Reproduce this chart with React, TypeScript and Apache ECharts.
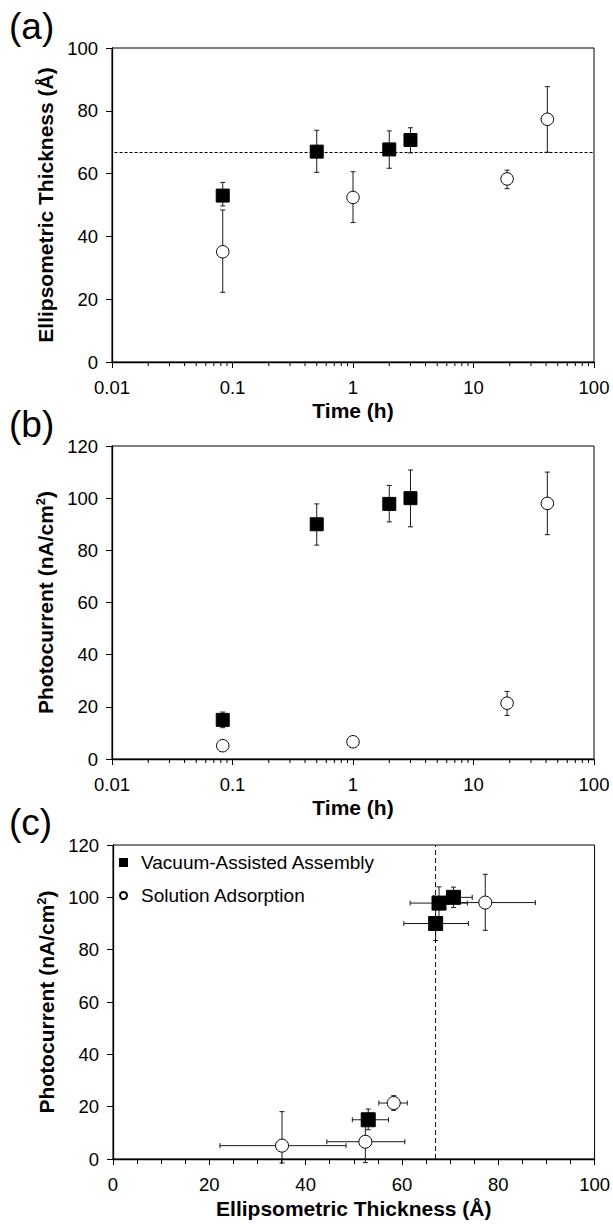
import React, { useEffect, useRef } from 'react';
import * as echarts from 'echarts';

const FONT = '"Liberation Sans", Arial, Helvetica, sans-serif';

// ---- data ----
const TIME_VAC = [0.083, 0.5, 2, 3];
const TIME_SOL = [0.083, 1, 19, 41];

const THICK_VAC = [53, 67, 67.7, 70.7];
const THICK_VAC_LO = [49.7, 60.4, 61.7, 66.6];
const THICK_VAC_HI = [57.2, 73.8, 73.6, 74.6];
const THICK_SOL = [35.1, 52.4, 58.3, 77.3];
const THICK_SOL_LO = [22.2, 44.4, 55.2, 66.8];
const THICK_SOL_HI = [48.4, 60.6, 61.1, 87.7];

const CURR_VAC = [15, 90, 97.8, 100];
const CURR_VAC_LO = [12, 82, 90.9, 89];
const CURR_VAC_HI = [18, 97.8, 104.9, 110.8];
const CURR_SOL = [5.1, 6.6, 21.4, 98];
const CURR_SOL_LO = [5.1, 6.6, 16.7, 86];
const CURR_SOL_HI = [5.1, 6.6, 25.9, 110];

// panel (c) photocurrent error bars as drawn
const C_CURR_VAC_LO = [11.2, 83.5, 92, 96.1];
const C_CURR_VAC_HI = [19.1, 96.5, 104, 103.9];
const C_CURR_SOL_LO = [-1.5, -1.4, 18.6, 87.4];
const C_CURR_SOL_HI = [18.1, 15, 24.2, 108.8];

const MONOLAYER = 66.9;

const LOG_DECADES = [0.01, 0.1, 1, 10];
const LOG_MINOR_MULT = [2, 3, 4, 5, 6, 7, 8, 9];
const X_TICK_LABELS = ['0.01', '0.1', '1', '10', '100'];

const VAC_NAME = 'Vacuum-Assisted Assembly';
const SOL_NAME = 'Solution Adsorption';

const MINOR_TICKS: number[][] = [];
LOG_DECADES.forEach((d) => LOG_MINOR_MULT.forEach((m) => MINOR_TICKS.push([d * m, 0])));

const ERR_STYLE = { stroke: '#1a1a1a', lineWidth: 1 };
const CAP = 2.5;

const vErrRender = (params: any, api: any) => {
  const x = api.value(0);
  const lo = api.coord([x, api.value(2)]);
  const hi = api.coord([x, api.value(3)]);
  return {
    type: 'group',
    children: [
      { type: 'line', shape: { x1: lo[0], y1: lo[1], x2: hi[0], y2: hi[1] }, style: ERR_STYLE },
      { type: 'line', shape: { x1: lo[0] - CAP, y1: lo[1], x2: lo[0] + CAP, y2: lo[1] }, style: ERR_STYLE },
      { type: 'line', shape: { x1: hi[0] - CAP, y1: hi[1], x2: hi[0] + CAP, y2: hi[1] }, style: ERR_STYLE },
    ],
  };
};

const xyErrRender = (params: any, api: any) => {
  const x = api.value(0);
  const y = api.value(1);
  const xl = api.coord([api.value(2), y]);
  const xh = api.coord([api.value(3), y]);
  const yl = api.coord([x, api.value(4)]);
  const yh = api.coord([x, api.value(5)]);
  return {
    type: 'group',
    children: [
      { type: 'line', shape: { x1: xl[0], y1: xl[1], x2: xh[0], y2: xh[1] }, style: ERR_STYLE },
      { type: 'line', shape: { x1: xl[0], y1: xl[1] - CAP, x2: xl[0], y2: xl[1] + CAP }, style: ERR_STYLE },
      { type: 'line', shape: { x1: xh[0], y1: xh[1] - CAP, x2: xh[0], y2: xh[1] + CAP }, style: ERR_STYLE },
      { type: 'line', shape: { x1: yl[0], y1: yl[1], x2: yh[0], y2: yh[1] }, style: ERR_STYLE },
      { type: 'line', shape: { x1: yl[0] - CAP, y1: yl[1], x2: yl[0] + CAP, y2: yl[1] }, style: ERR_STYLE },
      { type: 'line', shape: { x1: yh[0] - CAP, y1: yh[1], x2: yh[0] + CAP, y2: yh[1] }, style: ERR_STYLE },
    ],
  };
};

const minorTickRender = (params: any, api: any) => {
  const p = api.coord([api.value(0), 0]);
  return {
    type: 'line',
    shape: { x1: p[0], y1: p[1], x2: p[0], y2: p[1] + 4 },
    style: { stroke: '#000', lineWidth: 1 },
  };
};

const axisCommon = {
  axisLine: { show: true, onZero: false, lineStyle: { color: '#000', width: 1.3 } },
  axisTick: { show: true, inside: false, length: 6, lineStyle: { color: '#000', width: 1 } },
  splitLine: { show: false },
  nameLocation: 'middle' as const,
};

const labelStyle = { fontSize: 18.5, color: '#000', fontFamily: FONT };
const nameStyle = { fontSize: 21, fontWeight: 'bold' as const, color: '#000', fontFamily: FONT };

const photoName = 'Photocurrent (nA/cm{sup|2})';
const photoNameStyle = {
  ...nameStyle,
  rich: {
    sup: { fontSize: 13, fontWeight: 'bold', color: '#000', fontFamily: FONT, verticalAlign: 'top', padding: [0, 0, 10, 0] },
  },
};

const logXAxis = (gridIndex: number) => ({
  ...axisCommon,
  type: 'log',
  logBase: 10,
  gridIndex,
  min: 0.01,
  max: 100,
  name: 'Time (h)',
  nameGap: 38,
  nameTextStyle: nameStyle,
  axisLabel: {
    ...labelStyle,
    margin: 16,
    formatter: (v: number) => X_TICK_LABELS[Math.round(Math.log10(v)) + 2] ?? String(v),
  },
});

const scatterSq = (name: string, data: number[][], xi: number, size: number) => ({
  type: 'scatter',
  name,
  xAxisIndex: xi,
  yAxisIndex: xi,
  symbol: 'rect',
  symbolSize: size,
  itemStyle: { color: '#000', borderColor: '#000', borderWidth: 1, opacity: 1 },
  data,
  z: 5,
  silent: true,
});

const scatterCirc = (name: string, data: number[][], xi: number, size: number) => ({
  type: 'scatter',
  name,
  xAxisIndex: xi,
  yAxisIndex: xi,
  symbol: 'circle',
  symbolSize: size,
  itemStyle: { color: '#fff', borderColor: '#000', borderWidth: 1, opacity: 1 },
  data,
  z: 5,
  silent: true,
});

const errSeries = (data: number[][], xi: number, render: any) => ({
  type: 'custom',
  xAxisIndex: xi,
  yAxisIndex: xi,
  renderItem: render,
  data,
  z: 3,
  silent: true,
  clip: false,
});

export default function App() {
  const ref = useRef<HTMLDivElement>(null);

  useEffect(() => {
    if (!ref.current) return;
    const chart = echarts.init(ref.current, undefined, { renderer: 'svg' });

    const zipErr = (xs: number[], ys: number[], lo: number[], hi: number[]) =>
      xs.map((x, i) => [x, ys[i], lo[i], hi[i]]);

    const option: any = {
      animation: false,
      backgroundColor: '#fff',
      textStyle: { fontFamily: FONT },
      grid: [
        { left: 112, top: 48, width: 482, height: 314, show: true, borderColor: '#000', borderWidth: 1 },
        { left: 112, top: 446, width: 482, height: 313, show: true, borderColor: '#000', borderWidth: 1 },
        { left: 113, top: 845, width: 483, height: 314, show: true, borderColor: '#000', borderWidth: 1 },
      ],
      xAxis: [
        logXAxis(0),
        logXAxis(1),
        {
          ...axisCommon,
          type: 'value',
          gridIndex: 2,
          min: 0,
          max: 100,
          interval: 20,
          minorTick: { show: true, splitNumber: 4, length: 5, lineStyle: { color: '#000', width: 1 } },
          name: 'Ellipsometric Thickness (Å)',
          nameGap: 39,
          nameTextStyle: nameStyle,
          axisLabel: { ...labelStyle, margin: 16 },
        },
      ],
      yAxis: [
        {
          ...axisCommon,
          type: 'value',
          gridIndex: 0,
          min: 0,
          max: 100,
          interval: 20,
          name: 'Ellipsometric Thickness (Å)',
          nameGap: 54,
          nameTextStyle: nameStyle,
          axisLabel: { ...labelStyle, margin: 14 },
        },
        {
          ...axisCommon,
          type: 'value',
          gridIndex: 1,
          min: 0,
          max: 120,
          interval: 20,
          name: photoName,
          nameGap: 47,
          nameTextStyle: photoNameStyle,
          axisLabel: { ...labelStyle, margin: 14 },
        },
        {
          ...axisCommon,
          type: 'value',
          gridIndex: 2,
          min: 0,
          max: 120,
          interval: 20,
          name: photoName,
          nameGap: 47,
          nameTextStyle: photoNameStyle,
          axisLabel: { ...labelStyle, margin: 14 },
        },
      ],
      legend: {
        data: [
          { name: VAC_NAME, icon: 'rect' },
          { name: SOL_NAME, icon: 'circle' },
        ],
        orient: 'vertical',
        left: 119,
        top: 852,
        itemWidth: 7,
        itemHeight: 7,
        itemGap: 12,
        padding: 0,
        selectedMode: false,
        textStyle: { fontSize: 19, color: '#000', fontFamily: FONT, lineHeight: 21, padding: [0, 0, 0, 9] },
      },
      graphic: [
        { type: 'text', left: 9, top: 8, style: { text: '(a)', fontSize: 37, fill: '#000', fontFamily: FONT } },
        { type: 'text', left: 9, top: 406, style: { text: '(b)', fontSize: 37, fill: '#000', fontFamily: FONT } },
        { type: 'text', left: 9, top: 804, style: { text: '(c)', fontSize: 37, fill: '#000', fontFamily: FONT } },
      ],
      series: [
        // minor log ticks
        { type: 'custom', xAxisIndex: 0, yAxisIndex: 0, renderItem: minorTickRender, data: MINOR_TICKS, silent: true, clip: false, z: 2 },
        { type: 'custom', xAxisIndex: 1, yAxisIndex: 1, renderItem: minorTickRender, data: MINOR_TICKS, silent: true, clip: false, z: 2 },

        // (a)
        {
          ...errSeries(zipErr(TIME_VAC, THICK_VAC, THICK_VAC_LO, THICK_VAC_HI), 0, vErrRender),
          markLine: {
            silent: true,
            symbol: 'none',
            label: { show: false },
            lineStyle: { color: '#000', width: 1, type: [3, 2] },
            data: [[{ coord: [0.0105, MONOLAYER] }, { coord: [100, MONOLAYER] }]],
          },
        },
        errSeries(zipErr(TIME_SOL, THICK_SOL, THICK_SOL_LO, THICK_SOL_HI), 0, vErrRender),
        scatterSq(VAC_NAME + ' (a)', TIME_VAC.map((t, i) => [t, THICK_VAC[i]]), 0, 13),
        scatterCirc(SOL_NAME + ' (a)', TIME_SOL.map((t, i) => [t, THICK_SOL[i]]), 0, 12.5),

        // (b)
        errSeries(zipErr(TIME_VAC, CURR_VAC, CURR_VAC_LO, CURR_VAC_HI), 1, vErrRender),
        errSeries(zipErr(TIME_SOL, CURR_SOL, CURR_SOL_LO, CURR_SOL_HI), 1, vErrRender),
        scatterSq(VAC_NAME + ' (b)', TIME_VAC.map((t, i) => [t, CURR_VAC[i]]), 1, 13),
        scatterCirc(SOL_NAME + ' (b)', TIME_SOL.map((t, i) => [t, CURR_SOL[i]]), 1, 12.5),

        // (c)
        {
          ...errSeries(
            THICK_VAC.map((x, i) => [x, CURR_VAC[i], THICK_VAC_LO[i], THICK_VAC_HI[i], C_CURR_VAC_LO[i], C_CURR_VAC_HI[i]]),
            2,
            xyErrRender
          ),
          markLine: {
            silent: true,
            symbol: 'none',
            label: { show: false },
            lineStyle: { color: '#000', width: 1, type: [5, 3] },
            data: [[{ coord: [MONOLAYER, 0] }, { coord: [MONOLAYER, 120] }]],
          },
        },
        errSeries(
          THICK_SOL.map((x, i) => [x, CURR_SOL[i], THICK_SOL_LO[i], THICK_SOL_HI[i], C_CURR_SOL_LO[i], C_CURR_SOL_HI[i]]),
          2,
          xyErrRender
        ),
        scatterSq(VAC_NAME, THICK_VAC.map((x, i) => [x, CURR_VAC[i]]), 2, 14),
        scatterCirc(SOL_NAME, THICK_SOL.map((x, i) => [x, CURR_SOL[i]]), 2, 13),
      ],
    };

    chart.setOption(option);
    return () => chart.dispose();
  }, []);

  return (
    <div
      ref={ref}
      style={{ position: 'fixed', left: 0, top: 0, width: 613, height: 1224, background: '#fff' }}
    />
  );
}
